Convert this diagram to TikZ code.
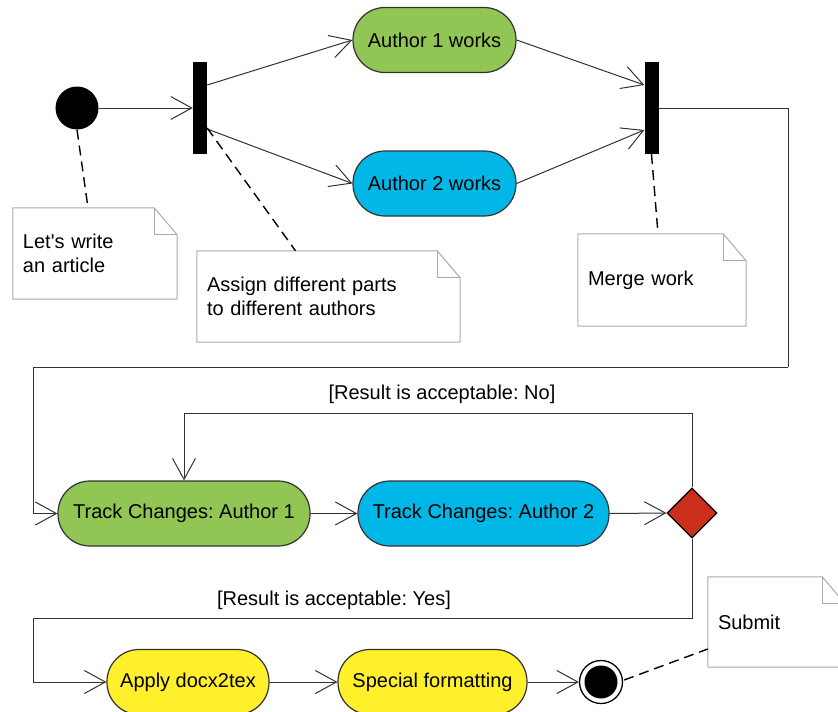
\documentclass[tikz,border=0pt]{standalone}
\usepackage{fontspec}
\setmainfont{Liberation Sans}
\usetikzlibrary{arrows.meta,shapes.geometric}
\frenchspacing
\definecolor{pgreen}{RGB}{146,198,84}
\definecolor{pblue}{RGB}{0,183,232}
\definecolor{pyellow}{RGB}{255,240,43}
\definecolor{pred}{RGB}{204,46,28}
\definecolor{notegray}{RGB}{170,170,170}
\definecolor{linegray}{RGB}{50,50,50}
\newcommand\notebox[1]{%
  \draw[noteline] (#1.north west) -- ([xshift=-23pt]#1.north east) -- ([yshift=-27pt]#1.north east) -- (#1.south east) -- (#1.south west) -- cycle;
  \draw[noteline] ([xshift=-23pt]#1.north east) |- ([yshift=-27pt]#1.north east);}
\tikzset{
  txt/.style={font=\fontsize{20}{24}\selectfont},
  pill/.style={txt, rectangle, rounded corners=32pt, draw=linegray, line width=1.2pt, minimum height=65pt, inner sep=0pt},
  bar/.style={fill=black, minimum width=14pt, minimum height=92pt, inner sep=0pt},
  flow/.style={draw=linegray, line width=1pt, -{Straight Barb[length=21pt,width=23pt]}},
  plain/.style={draw=linegray, line width=1pt},
  notenode/.style={txt, align=left, inner xsep=10pt, inner ysep=0pt},
  noteline/.style={draw=notegray, line width=1pt},
  dashline/.style={draw=black, line width=1.4pt, dash pattern=on 10pt off 6pt},
}
\begin{document}
\begin{tikzpicture}[x=1pt,y=-1pt]
\useasboundingbox (0,0) rectangle (838,712);
% nodes
\node[circle, fill=black, minimum size=43pt, inner sep=0pt] (start) at (77,108) {};
\node[bar] (fork1) at (200,108) {};
\node[bar] (fork2) at (651.5,108) {};
\node[pill, fill=pgreen, minimum width=163pt] (a1) at (434.5,40) {Author 1 works};
\node[pill, fill=pblue, minimum width=163pt] (a2) at (434.5,183.5) {Author 2 works};
\node[pill, fill=pgreen, minimum width=252pt] (tc1) at (184,513.5) {Track Changes: Author 1};
\node[pill, fill=pblue, minimum width=251pt] (tc2) at (483.5,513.5) {Track Changes: Author 2};
\node[diamond, aspect=1, fill=pred, draw=black, line width=1.2pt, minimum width=50pt, minimum height=50pt, inner sep=0pt] (dec) at (692,513) {};
\node[pill, fill=pyellow, minimum width=162pt] (apply) at (188,682) {Apply docx2tex};
\node[pill, fill=pyellow, minimum width=189pt] (spec) at (432.5,682) {Special formatting};
\node[circle, draw=black, fill=white, line width=1.3pt, minimum size=43pt, inner sep=0pt] (end) at (601,682) {};
\fill[black] (end.center) circle (16.5pt);
% notes
\node[notenode, text width=144pt, minimum height=91pt] (n1) at (95,253.5) {Let\textquotesingle s write\\an article};
\node[notenode, text width=243pt, minimum height=91pt] (n2) at (328.5,296.5) {Assign different parts\\to different authors};
\node[notenode, text width=148pt, minimum height=92pt] (n3) at (662,280) {Merge work};
\node[notenode, text width=117pt, minimum height=90pt] (n4) at (776.5,622) {Submit};
\notebox{n1}
\notebox{n2}
\notebox{n3}
\notebox{n4}
% guard labels
\node[txt] (lno) at (442,394) {[Result is acceptable: No]};
\node[txt] (lyes) at (334,600) {[Result is acceptable: Yes]};
% coordinates
\coordinate (c1) at (788,367);
\coordinate (c2) at (33,367);
\coordinate (c3) at (184,413);
\coordinate (c4) at (33,618);
% connectors
\draw[flow] (start.east) -- (fork1.west);
\draw[flow] ([yshift=23pt]fork1.east) -- (a1.west);
\draw[flow] ([yshift=-21pt]fork1.east) -- (a2.west);
\draw[flow] (a1.east) -- ([yshift=23pt]fork2.west);
\draw[flow] (a2.east) -- ([yshift=-22pt]fork2.west);
\draw[plain] (fork2.east) -| (c1);
\draw[flow] (c1) -- (c2) |- (tc1.west);
\draw[flow] (tc1.east) -- (tc2.west);
\draw[flow] (tc2.east) -- (dec.west);
\draw[flow] (dec.north) |- (c3) -- (tc1.north);
\draw[flow] (dec.south) |- (c4) |- (apply.west);
\draw[flow] (apply.east) -- (spec.west);
\draw[flow] (spec.east) -- (end.west);
% note links
\draw[dashline] (start.south) -- ([xshift=-7pt]n1.north);
\draw[dashline] ([yshift=-20pt]fork1.east) -- ([xshift=-33pt]n2.north);
\draw[dashline] (fork2.south) -- ([xshift=-4pt]n3.north);
\draw[dashline] ([xshift=1pt,yshift=2pt]end.east) -- ([yshift=-27pt]n4.west);
\end{tikzpicture}
\end{document}
